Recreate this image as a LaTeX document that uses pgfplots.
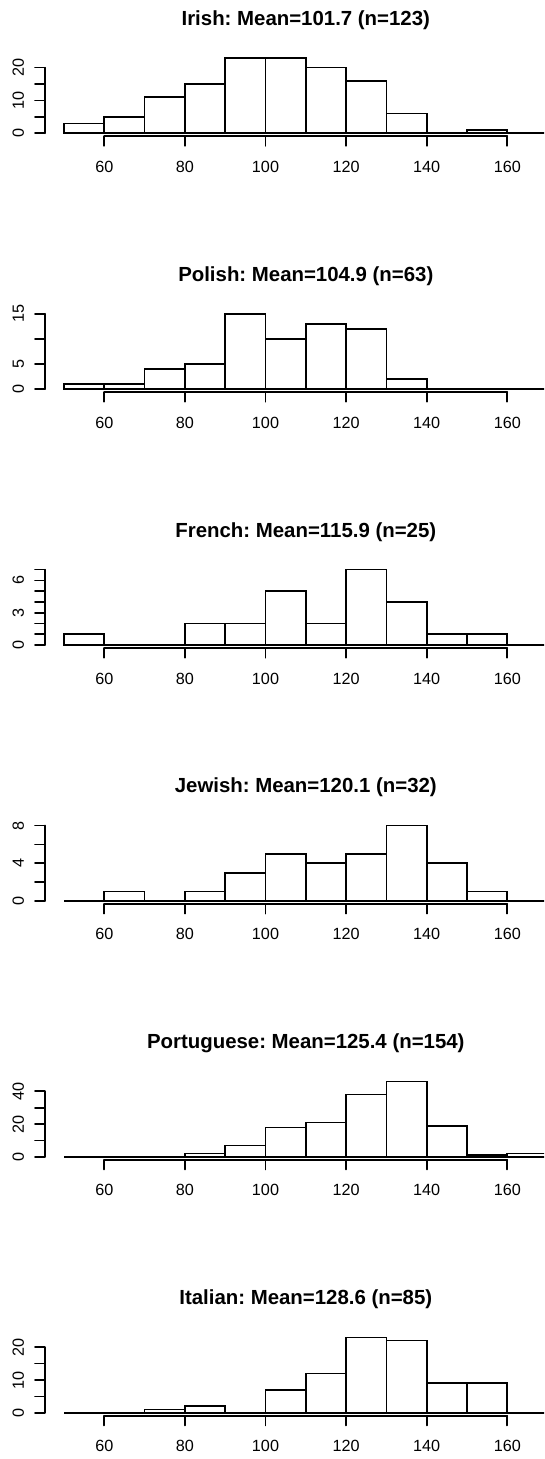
\documentclass[border=0pt]{standalone}
\usepackage{fontspec}
\setmainfont{Liberation Sans}
\usepackage{pgfplots}
\pgfplotsset{compat=1.18}
\frenchspacing
\pgfplotsset{
  rhist/.style={
    scale only axis, width=391.7pt, height=61.1pt,
    anchor=south west,
    xmin=45.2, xmax=174.8,
    axis x line*=bottom, axis y line*=left,
    axis line style={draw=none},
    clip=false,
    tick align=outside,
    major tick length=7.2pt,
    tick style={black, line width=1.25pt, line cap=round},
    xtick={60,80,100,120,140,160},
    minor tick num=0,
    xticklabel style={anchor=center, yshift=-15.6pt},
    yticklabel style={rotate=90, anchor=center, yshift=12.6pt},
    ticklabel style={font=\fontsize{12.15}{14}\selectfont},
    /pgf/number format/assume math mode=true,
    title style={at={(0.5,1)}, anchor=center, yshift=20.1pt,
      font=\bfseries\fontsize{15.3}{18}\selectfont},
  },
  barsfill/.style={ybar interval, fill=white, draw=none},
  bars/.style={ybar interval, fill=none, draw=black, line width=1.25pt, line join=miter},
}
\begin{document}
\begin{tikzpicture}
\useasboundingbox (0,0) rectangle (408pt,-1094.25pt);
\clip (0,0) rectangle (408pt,-1094.25pt);

% Irish
\begin{axis}[rhist, at={(33.5pt,-102.2pt)}, ymin=-0.92, ymax=23.92,
  ytick={0,5,10,15,20}, yticklabels={0,,10,,20},
  title={Irish: Mean=101.7 (n=123)}]
\addplot[barsfill] coordinates {(50,3) (60,5) (70,11) (80,15) (90,23) (100,23) (110,20) (120,16) (130,6) (140,0) (150,1) (160,0) (170,0)};
\addplot[bars] coordinates {(50,3) (60,5) (70,11) (80,15) (90,23) (100,23) (110,20) (120,16) (130,6) (140,0) (150,1) (160,0) (170,0)};
\draw[line width=1.25pt, line cap=round] (axis cs:60,-0.92) -- (axis cs:160,-0.92);
\draw[line width=1.25pt, line cap=round] (axis cs:45.2,0) -- (axis cs:45.2,20);
\end{axis}

% Polish
\begin{axis}[rhist, at={(33.5pt,-294.13pt)}, ymin=-0.6, ymax=15.6,
  ytick={0,5,10,15}, yticklabels={0,5,,15},
  title={Polish: Mean=104.9 (n=63)}]
\addplot[barsfill] coordinates {(50,1) (60,1) (70,4) (80,5) (90,15) (100,10) (110,13) (120,12) (130,2) (140,0) (150,0) (160,0) (170,0)};
\addplot[bars] coordinates {(50,1) (60,1) (70,4) (80,5) (90,15) (100,10) (110,13) (120,12) (130,2) (140,0) (150,0) (160,0) (170,0)};
\draw[line width=1.25pt, line cap=round] (axis cs:60,-0.6) -- (axis cs:160,-0.6);
\draw[line width=1.25pt, line cap=round] (axis cs:45.2,0) -- (axis cs:45.2,15);
\end{axis}

% French
\begin{axis}[rhist, at={(33.5pt,-486.06pt)}, ymin=-0.28, ymax=7.28,
  ytick={0,1,2,3,4,5,6,7}, yticklabels={0,,,3,,,6,},
  title={French: Mean=115.9 (n=25)}]
\addplot[barsfill] coordinates {(50,1) (60,0) (70,0) (80,2) (90,2) (100,5) (110,2) (120,7) (130,4) (140,1) (150,1) (160,0) (170,0)};
\addplot[bars] coordinates {(50,1) (60,0) (70,0) (80,2) (90,2) (100,5) (110,2) (120,7) (130,4) (140,1) (150,1) (160,0) (170,0)};
\draw[line width=1.25pt, line cap=round] (axis cs:60,-0.28) -- (axis cs:160,-0.28);
\draw[line width=1.25pt, line cap=round] (axis cs:45.2,0) -- (axis cs:45.2,7);
\end{axis}

% Jewish
\begin{axis}[rhist, at={(33.5pt,-677.99pt)}, ymin=-0.32, ymax=8.32,
  ytick={0,2,4,6,8}, yticklabels={0,,4,,8},
  title={Jewish: Mean=120.1 (n=32)}]
\addplot[barsfill] coordinates {(50,0) (60,1) (70,0) (80,1) (90,3) (100,5) (110,4) (120,5) (130,8) (140,4) (150,1) (160,0) (170,0)};
\addplot[bars] coordinates {(50,0) (60,1) (70,0) (80,1) (90,3) (100,5) (110,4) (120,5) (130,8) (140,4) (150,1) (160,0) (170,0)};
\draw[line width=1.25pt, line cap=round] (axis cs:60,-0.32) -- (axis cs:160,-0.32);
\draw[line width=1.25pt, line cap=round] (axis cs:45.2,0) -- (axis cs:45.2,8);
\end{axis}

% Portuguese
\begin{axis}[rhist, at={(33.5pt,-869.92pt)}, ymin=-1.84, ymax=47.84,
  ytick={0,10,20,30,40}, yticklabels={0,,20,,40},
  title={Portuguese: Mean=125.4 (n=154)}]
\addplot[barsfill] coordinates {(50,0) (60,0) (70,0) (80,2) (90,7) (100,18) (110,21) (120,38) (130,46) (140,19) (150,1) (160,2) (170,0)};
\addplot[bars] coordinates {(50,0) (60,0) (70,0) (80,2) (90,7) (100,18) (110,21) (120,38) (130,46) (140,19) (150,1) (160,2) (170,0)};
\draw[line width=1.25pt, line cap=round] (axis cs:60,-1.84) -- (axis cs:160,-1.84);
\draw[line width=1.25pt, line cap=round] (axis cs:45.2,0) -- (axis cs:45.2,40);
\end{axis}

% Italian
\begin{axis}[rhist, at={(33.5pt,-1061.85pt)}, ymin=-0.92, ymax=23.92,
  ytick={0,5,10,15,20}, yticklabels={0,,10,,20},
  title={Italian: Mean=128.6 (n=85)}]
\addplot[barsfill] coordinates {(50,0) (60,0) (70,1) (80,2) (90,0) (100,7) (110,12) (120,23) (130,22) (140,9) (150,9) (160,0) (170,0)};
\addplot[bars] coordinates {(50,0) (60,0) (70,1) (80,2) (90,0) (100,7) (110,12) (120,23) (130,22) (140,9) (150,9) (160,0) (170,0)};
\draw[line width=1.25pt, line cap=round] (axis cs:60,-0.92) -- (axis cs:160,-0.92);
\draw[line width=1.25pt, line cap=round] (axis cs:45.2,0) -- (axis cs:45.2,20);
\end{axis}
\end{tikzpicture}
\end{document}
